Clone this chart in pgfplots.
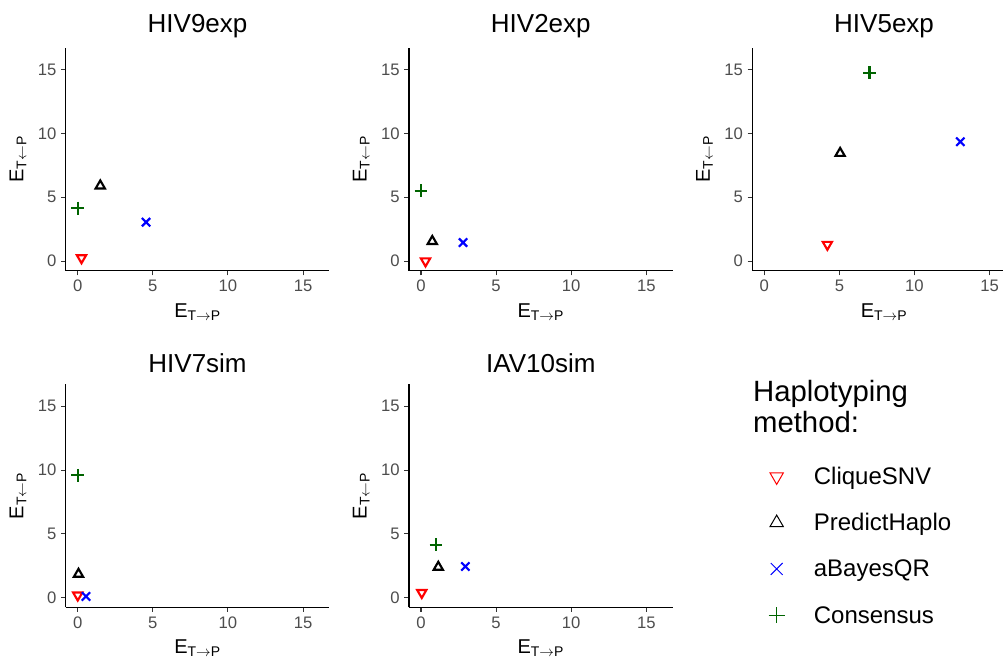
\documentclass[border=0pt]{standalone}
\usepackage{pgfplots}
\pgfplotsset{compat=1.18}
\usepackage{fontspec}
\setmainfont{Liberation Sans}
\definecolor{cdarkgreen}{HTML}{006400}
\definecolor{tickgray}{HTML}{4D4D4D}
\definecolor{tickline}{HTML}{333333}
\pgfplotsset{
  panel/.style={
    anchor=south west, scale only axis, width=197.7pt, height=167.25pt,
    xmin=-0.8, xmax=16.75, ymin=-0.75, ymax=16.72,
    axis lines=left, axis line style={-, line width=1.1pt, black},
    xtick={0,5,10,15}, ytick={0,5,10,15},
    tick align=outside, major tick length=3.5pt,
    tick style={tickline, line width=0.8pt},
    tick label style={font=\fontsize{12.5}{14}\selectfont, text=tickgray},
    /pgf/number format/assume math mode=true,
    every axis title shift=0pt,
    title style={at={(0.5,1.095)}, anchor=center, font=\fontsize{19.5}{22}\selectfont},
    xlabel={E\textsubscript{T\ensuremath{\rightarrow}P}}, ylabel={E\textsubscript{T\ensuremath{\leftarrow}P}},
    xlabel style={at={(0.5,-0.184)}, anchor=center, font=\fontsize{15}{17}\selectfont},
    ylabel style={at={(-0.181,0.5)}, anchor=center, font=\fontsize{15}{17}\selectfont},
    clip=false,
  },
  clq/.style={only marks, mark=triangle, mark size=4pt, mark options={rotate=180, draw=red, line width=1.6pt}},
  prh/.style={only marks, mark=triangle, mark size=4pt, mark options={draw=black, line width=1.6pt}},
  abq/.style={only marks, mark=x, mark size=4.4pt, mark options={draw=blue, line width=1.6pt}},
  con/.style={only marks, mark=+, mark size=4.8pt, mark options={draw=cdarkgreen, line width=1.6pt}},
}
\begin{document}
\begin{tikzpicture}
\useasboundingbox (0,0) rectangle (752.25pt,499.5pt);
% HIV9exp
\begin{axis}[panel, at={(49.3pt,296.5pt)}, title={HIV9exp}]
\addplot[clq] coordinates {(0.25,0.25)};
\addplot[prh] coordinates {(1.5,5.9)};
\addplot[abq] coordinates {(4.55,3.05)};
\addplot[con] coordinates {(0,4.15)};
\end{axis}
% HIV2exp
\begin{axis}[panel, at={(306.75pt,296.5pt)}, title={HIV2exp}]
\addplot[clq] coordinates {(0.3,0.0)};
\addplot[prh] coordinates {(0.75,1.55)};
\addplot[abq] coordinates {(2.8,1.45)};
\addplot[con] coordinates {(0,5.5)};
\end{axis}
% HIV5exp
\begin{axis}[panel, at={(564.2pt,296.5pt)}, title={HIV5exp}]
\addplot[clq] coordinates {(4.2,1.3)};
\addplot[prh] coordinates {(5.05,8.45)};
\addplot[abq] coordinates {(13.05,9.35)};
\addplot[con] coordinates {(7.0,14.75)};
\end{axis}
% HIV7sim
\begin{axis}[panel, at={(49.3pt,44.0pt)}, title={HIV7sim}]
\addplot[clq] coordinates {(0,0.2)};
\addplot[prh] coordinates {(0.05,1.85)};
\addplot[abq] coordinates {(0.55,0.1)};
\addplot[con] coordinates {(0,9.6)};
\end{axis}
% IAV10sim
\begin{axis}[panel, at={(306.75pt,44.0pt)}, title={IAV10sim}]
\addplot[clq] coordinates {(0.05,0.4)};
\addplot[prh] coordinates {(1.15,2.4)};
\addplot[abq] coordinates {(2.95,2.45)};
\addplot[con] coordinates {(1.0,4.15)};
\end{axis}
% legend
\node[anchor=base west, inner sep=0pt, font=\fontsize{22}{24}\selectfont] at (564.6pt,198.2pt) {Haplotyping};
\node[anchor=base west, inner sep=0pt, font=\fontsize{22}{24}\selectfont] at (564.6pt,175.0pt) {method:};
\begin{axis}[hide axis, scale only axis, width=10pt, height=10pt, xmin=0, xmax=1, ymin=0, ymax=1,
  at={(572.5pt,150.98pt)}, anchor=north west,
  legend cell align=left,
  legend image code/.code={\path[draw=none, fill=none] (-10pt,-6pt) rectangle (10pt,6pt); \draw[#1] plot coordinates {(0pt,0pt)};},
  legend style={at={(0,1)}, anchor=north west, draw=none, fill=none, inner sep=0pt, outer sep=0pt,
    row sep=16.6pt, column sep=17.9pt, font=\fontsize{18}{20}\selectfont,
    nodes={inner sep=0pt, text height=15pt, text depth=3pt}}]
\addlegendimage{only marks, mark=triangle, mark size=5.8pt, mark options={rotate=180, draw=red, line width=0.75pt}}
\addlegendentry{CliqueSNV}
\addlegendimage{only marks, mark=triangle, mark size=5.8pt, mark options={draw=black, line width=0.75pt}}
\addlegendentry{PredictHaplo}
\addlegendimage{only marks, mark=x, mark size=6.3pt, mark options={draw=blue, line width=0.75pt}}
\addlegendentry{aBayesQR}
\addlegendimage{only marks, mark=+, mark size=6pt, mark options={draw=cdarkgreen, line width=0.75pt}}
\addlegendentry{Consensus}
\end{axis}
\end{tikzpicture}
\end{document}
